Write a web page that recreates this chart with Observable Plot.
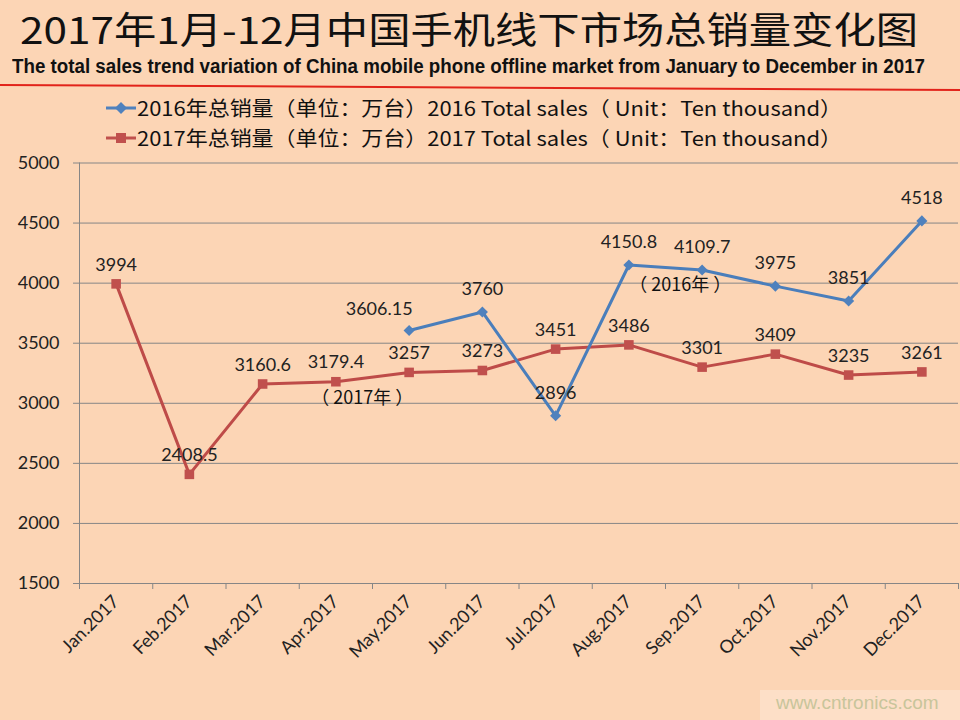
<!DOCTYPE html>
<html>
<head>
<meta charset="utf-8">
<script src="https://cdn.jsdelivr.net/npm/d3@7"></script>
<script src="https://cdn.jsdelivr.net/npm/@observablehq/plot@0.6"></script>
<style>
  html, body { margin: 0; padding: 0; }
  body { width: 960px; height: 720px; background: #FCD5B5; position: relative; overflow: hidden; }
  .abs { position: absolute; white-space: nowrap; transform-origin: 0 50%; }
  #title { left: 20px; top: 1px; font-family: "Noto Sans CJK SC", sans-serif; font-size: 37px; line-height: normal; color: #111; }
  #subtitle { left: 12px; top: 55px; font-family: "Liberation Sans", sans-serif; font-weight: bold; font-size: 20px; line-height: normal; color: #111; }
  #redline { position: absolute; left: -5px; top: 84px; width: 975px; height: 2px; background: #E2231A; transform: rotate(0.3deg); transform-origin: 0 0; }
  .legrow { left: 105px; height: 30px; display: flex; align-items: center; }
  .legtext { font-family: "Noto Sans CJK SC", sans-serif; font-size: 20px; line-height: 28px; color: #111; white-space: nowrap; transform-origin: 0 50%; }
  #chart { position: absolute; left: 0; top: 150px; }
  #wm { position: absolute; left: 760px; top: 690px; width: 200px; height: 30px; background: #FDDFC7; }
  #wmtext { position: absolute; left: 776px; top: 692px; font-family: "Liberation Sans", Arial, sans-serif; font-size: 19px; color: #C8C59B; }
</style>
</head>
<body>
<div id="title" class="abs">2017年1月-12月中国手机线下市场总销量变化图</div>
<div id="subtitle" class="abs">The total sales trend variation of China mobile phone offline market from January to December in 2017</div>
<div id="redline"></div>
<div id="leg1" class="abs legrow" style="top:93px"></div>
<div id="leg2" class="abs legrow" style="top:123px"></div>
<div id="chart"></div>
<div id="wm"></div>
<div id="wmtext">www.cntronics.com</div>
<script>
const months = ["Jan.2017","Feb.2017","Mar.2017","Apr.2017","May.2017","Jun.2017","Jul.2017","Aug.2017","Sep.2017","Oct.2017","Nov.2017","Dec.2017"];
const sales2016 = [null, null, null, null, 3606.15, 3760, 2896, 4150.8, 4109.7, 3975, 3851, 4518];
const sales2017 = [3994, 2408.5, 3160.6, 3179.4, 3257, 3273, 3451, 3486, 3301, 3409, 3235, 3261];
const yTicks = [1500, 2000, 2500, 3000, 3500, 4000, 4500, 5000];
const seriesNames = ["2016年总销量（单位：万台）2016 Total sales（ Unit：Ten thousand）",
                     "2017年总销量（单位：万台）2017 Total sales（ Unit：Ten thousand）"];
const annotations = [
  {text: "（ 2016年 ）", month: 8.7, value: 3980},
  {text: "（ 2017年 ）", month: 4.36, value: 3040}
];

const blue = "#4F81BD", blueLine = "#4A7EBB", red = "#C0504D", redLine = "#BE4B48", grid = "#868686";

const rows2016 = months.map((m, i) => ({i: i + 1, v: sales2016[i]})).filter(d => d.v != null);
const rows2017 = months.map((m, i) => ({i: i + 1, v: sales2017[i]}));
const boundaries = d3.range(0.5, months.length + 1, 1);

function fit(el, w) {
  const nat = el.getBoundingClientRect().width;
  el.style.transform = `scaleX(${w / nat})`;
}
fit(document.getElementById("title"), 898);
fit(document.getElementById("subtitle"), 913);

function legendMarker(color, symbol) {
  const s = d3.create("svg").attr("width", 32).attr("height", 20);
  s.append("line").attr("x1", 1).attr("x2", 31).attr("y1", 10).attr("y2", 10).attr("stroke", color).attr("stroke-width", 3);
  if (symbol === "diamond") s.append("path").attr("d", "M16,4L22,10L16,16L10,10Z").attr("fill", color);
  else s.append("rect").attr("x", 11).attr("y", 5).attr("width", 10).attr("height", 10).attr("fill", color);
  return s.node();
}
[["leg1", blue, "diamond", seriesNames[0]], ["leg2", red, "square", seriesNames[1]]].forEach(([id, c, sym, name]) => {
  const row = document.getElementById(id);
  row.appendChild(legendMarker(c, sym));
  const t = document.createElement("span");
  t.className = "legtext";
  t.textContent = name;
  row.appendChild(t);
  fit(t, 705);
});

const chart = Plot.plot({
  width: 960,
  height: 570,
  marginLeft: 79,
  marginRight: 2,
  marginTop: 12.5,
  marginBottom: 137,
  style: {background: "transparent", fontFamily: "Lato, 'Open Sans', sans-serif", fontSize: "18px", color: "#222"},
  x: {type: "linear", domain: [0.5, 12.5]},
  y: {domain: [1500, 5000]},
  marks: [
    Plot.ruleY(yTicks, {stroke: grid, strokeWidth: 1, strokeOpacity: 1}),
    Plot.ruleX([boundaries[0]], {stroke: grid, strokeWidth: 1}),
    Plot.axisY({ticks: yTicks, tickSize: 6, tickPadding: 14, tickFormat: "d", label: null, stroke: grid, strokeOpacity: 1, fill: "#222"}),
    Plot.axisX({ticks: boundaries, tickSize: 6, tickFormat: () => "", label: null, stroke: grid, strokeOpacity: 1}),
    Plot.axisX({ticks: d3.range(1, months.length + 1), tickSize: 0, tickPadding: 15, tickRotate: -45, tickFormat: i => months[i - 1], label: null, fill: "#222"}),
    Plot.line(rows2017, {x: "i", y: "v", stroke: redLine, strokeWidth: 3}),
    Plot.dot(rows2017, {x: "i", y: "v", symbol: "square", r: 5.4, fill: red, stroke: "none"}),
    Plot.line(rows2016, {x: "i", y: "v", stroke: blueLine, strokeWidth: 3}),
    Plot.dot(rows2016, {x: "i", y: "v", symbol: "diamond2", r: 5, fill: blue, stroke: "none"}),
    Plot.text(rows2017, {x: "i", y: "v", text: d => String(d.v), dy: -19, fill: "#222"}),
    Plot.text(rows2016.slice(0, 1), {x: "i", y: "v", text: d => String(d.v), dy: -21, dx: -30, fill: "#222"}),
    Plot.text(rows2016.slice(1), {x: "i", y: "v", text: d => String(d.v), dy: -23, fill: "#222"}),
    Plot.text(annotations, {x: "month", y: "value", text: "text", fill: "#111", fontFamily: "'Noto Sans CJK SC', sans-serif", fontSize: 18})
  ]
});
document.getElementById("chart").appendChild(chart);
</script>
</body>
</html>
